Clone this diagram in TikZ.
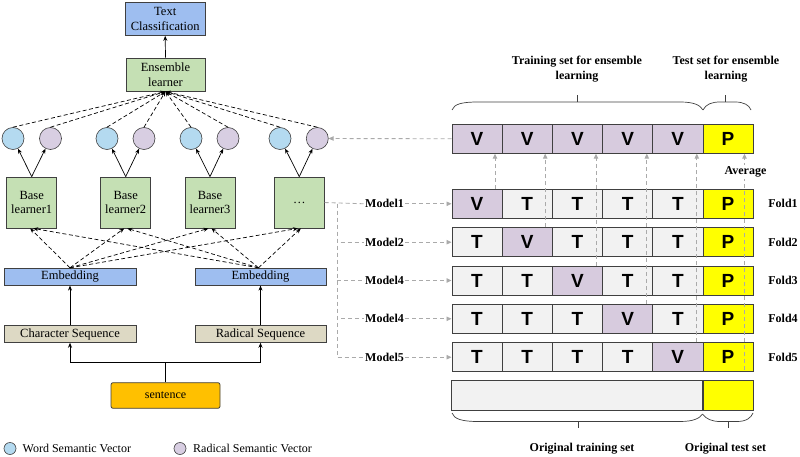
\documentclass[tikz,border=0pt]{standalone}
\usepackage{fontspec}
\setmainfont{Liberation Serif}
\newfontfamily\arialf{Liberation Sans}
\usetikzlibrary{arrows.meta}
\definecolor{bord}{RGB}{64,64,64}
\definecolor{cgreen}{RGB}{197,224,180}
\definecolor{cbluebox}{RGB}{158,190,240}
\definecolor{ctan}{RGB}{221,217,196}
\definecolor{corange}{RGB}{255,192,0}
\definecolor{ccircb}{RGB}{180,218,240}
\definecolor{ccircp}{RGB}{216,206,226}
\definecolor{cvcell}{RGB}{215,203,222}
\definecolor{ctcell}{RGB}{242,242,242}
\definecolor{cyel}{RGB}{255,255,0}
\definecolor{gline}{RGB}{170,170,170}
\begin{document}
\begin{tikzpicture}[x=1pt,y=-1pt,
  box/.style={draw=bord, line width=0.8pt, inner sep=0pt, align=center, font=\fontsize{12.5}{14.5}\selectfont},
  greenbox/.style={box, fill=cgreen},
  bluebox/.style={box, fill=cbluebox},
  tanbox/.style={box, fill=ctan},
  circb/.style={circle, draw=bord, line width=0.6pt, fill=ccircb, minimum size=22pt, inner sep=0pt},
  circp/.style={circle, draw=bord, line width=0.6pt, fill=ccircp, minimum size=22pt, inner sep=0pt},
  cell/.style={draw=bord, line width=0.8pt, minimum width=50.2pt, minimum height=29pt, inner sep=0pt, font=\arialf\bfseries\fontsize{19}{19}\selectfont},
  vcell/.style={cell, fill=cvcell},
  tcell/.style={cell, fill=ctcell},
  pcell/.style={cell, fill=cyel},
  lab/.style={font=\bfseries\fontsize{12}{15}\selectfont, align=center, inner sep=1pt},
  arr/.style={-{Stealth[length=5pt,width=4pt]}, line width=0.7pt, black},
  bdash/.style={arr, dash pattern=on 4pt off 2.5pt},
  gdash/.style={gline, line width=0.9pt, dash pattern=on 4pt off 3pt},
  garr/.style={gdash, -{Triangle[length=5pt,width=4.5pt]}},
  brace/.style={line width=0.7pt, bord}
]
\useasboundingbox (0,0) rectangle (800,457);

% ---------- left part ----------
\node[bluebox, minimum width=80pt, minimum height=33pt] (tc) at (165.2,18.9) {Text\\Classification};
\node[greenbox, minimum width=79pt, minimum height=33pt] (el) at (165.5,74.6) {Ensemble\\learner};

\node[greenbox, minimum width=50pt, minimum height=51pt] (b1) at (31.7,202.5) {Base\\learner1};
\node[greenbox, minimum width=50pt, minimum height=51pt] (b2) at (125.7,202.5) {Base\\learner2};
\node[greenbox, minimum width=50pt, minimum height=51pt] (b3) at (210,202.5) {Base\\learner3};
\node[greenbox, minimum width=50pt, minimum height=51pt] (b4) at (299.3,202.5) {…};

\node[circb] (c1a) at (13,138.5) {};
\node[circp] (c1b) at (50.5,138.5) {};
\node[circb] (c2a) at (107,138.5) {};
\node[circp] (c2b) at (144,138.5) {};
\node[circb] (c3a) at (191,138.5) {};
\node[circp] (c3b) at (228,138.5) {};
\node[circb] (c4a) at (280,138.5) {};
\node[circp] (c4b) at (317.3,138.5) {};

\node[bluebox, minimum width=132pt, minimum height=17pt] (e1) at (70,276.7) {Embedding};
\node[bluebox, minimum width=131pt, minimum height=17pt] (e2) at (260.5,276.7) {Embedding};
\node[tanbox, minimum width=132pt, minimum height=16.7pt] (s1) at (70,334) {Character Sequence};
\node[tanbox, minimum width=131pt, minimum height=16.7pt] (s2) at (260.5,334) {Radical Sequence};
\node[box, fill=corange, rounded corners=2pt, minimum width=109pt, minimum height=25.6pt, font=\fontsize{12}{14}\selectfont] (sent) at (165.5,395.5) {sentence};

\draw[arr] (el.north) -- (tc.south);
\foreach \b/\ca/\cb in {b1/c1a/c1b, b2/c2a/c2b, b3/c3a/c3b, b4/c4a/c4b} {
  \draw[arr] (\b.north) -- (\ca);
  \draw[arr] (\b.north) -- (\cb);
}
\foreach \c in {c1a,c1b,c2a,c2b,c3a,c3b,c4a,c4b} {
  \draw[bdash] (\c.north) -- (el.south);
}
\foreach \b in {b1,b2,b3,b4} {
  \draw[bdash] (e1.north) -- ([xshift=-1.5pt]\b.south);
  \draw[bdash] ([xshift=-2pt]e2.north) -- ([xshift=1.5pt]\b.south);
}
\draw[arr] (s1.north) -- (e1.south);
\draw[arr] (s2.north) -- (e2.south);
\coordinate (split) at (165.5,362);
\draw[arr] (sent.north) -- (split) -| (s1.south);
\draw[arr] (split) -| (s2.south);

% legend
\node[circb, minimum size=12pt] (lg1) at (10,448.5) {};
\node[anchor=west, inner sep=0pt, font=\fontsize{12}{14}\selectfont] (lt1) at (22.5,448.5) {Word Semantic Vector};
\node[circp, minimum size=12pt] (lg2) at (180,448.5) {};
\node[anchor=west, inner sep=0pt, font=\fontsize{12}{14}\selectfont] (lt2) at (193,448.5) {Radical Semantic Vector};

% ---------- right part ----------
\foreach \c/\x in {1/477,2/527.2,3/577.4,4/627.6,5/677.8} {
  \node[vcell] (r0c\c) at (\x,138.8) {V};
}
\node[pcell] (r0c6) at (728,138.8) {P};

\foreach \r/\y in {1/203.8,2/242.2,3/280.5,4/318.8,5/357.2} {
  \foreach \c/\x in {1/477,2/527.2,3/577.4,4/627.6,5/677.8} {
    \ifnum\c=\r
      \node[vcell] (r\r c\c) at (\x,\y) {V};
    \else
      \node[tcell] (r\r c\c) at (\x,\y) {T};
    \fi
  }
  \node[pcell] (r\r c6) at (728,\y) {P};
  \node[lab] (f\r) at (783,\y) {Fold\r};
}
\node[tcell, minimum width=251pt, minimum height=29.3pt] (otr) at (577.3,395.4) {};
\node[pcell, minimum height=29.3pt] (ote) at (728,395.4) {};

% model labels
\node[lab, fill=white] (m1) at (384.5,203.8) {Model1};
\node[lab, fill=white] (m2) at (384.5,242.2) {Model2};
\node[lab, fill=white] (m3) at (384.5,280.5) {Model4};
\node[lab, fill=white] (m4) at (384.5,318.8) {Model4};
\node[lab, fill=white] (m5) at (384.5,357.2) {Model5};

\draw[gdash] (b4.east) -- (m1.west);
\coordinate (vtop) at (337,203.8);
\foreach \m in {m2,m3,m4,m5} {
  \draw[gdash] (vtop) |- (\m.west);
}
\foreach \m/\r in {m1/r1,m2/r2,m3/r3,m4/r4,m5/r5} {
  \draw[garr] (\m.east) -- (\r c1.west);
}

% vertical arrows to top row
\draw[garr] ([xshift=18pt]r1c1.north) -- ([xshift=18pt]r0c1.south);
\draw[garr] ([xshift=18pt]r2c2.north) -- ([xshift=18pt]r0c2.south);
\draw[garr] ([xshift=18.6pt]r3c3.north) -- ([xshift=18.6pt]r0c3.south);
\draw[garr] ([xshift=19.2pt]r4c4.north) -- ([xshift=19.2pt]r0c4.south);
\draw[garr] ([xshift=19pt]r5c5.north) -- ([xshift=19pt]r0c5.south);
\draw[garr] ([xshift=16.5pt,yshift=2pt]r5c6.south) -- ([xshift=16.5pt]r0c6.south);
\node[lab, fill=white, inner sep=1.5pt] (avg) at (745.5,172) {Average};

% top to purple circle
\draw[garr] (r0c1.west) -- (c4b.east);

% braces
\draw[brace] (452,110) .. controls (454,104) and (462,102) .. (478,102) -- (680,102) .. controls (694,102) and (700,105) .. (703,110);
\draw[brace] (577,102) -- (577,95.5);
\draw[brace] (703,110) .. controls (706,104) and (712,102) .. (720,102) -- (735,102) .. controls (744,102) and (749,105) .. (751,110);
\draw[brace] (725.5,102) -- (725.5,95.5);

\draw[brace] (452,413) .. controls (454,419) and (462,421.5) .. (478,421.5) -- (680,421.5) .. controls (694,421.5) and (700,418) .. (702.5,414);
\draw[brace] (578,421.5) -- (578,428);
\draw[brace] (702.5,414) .. controls (706,419) and (712,421.5) .. (720,421.5) -- (737,421.5) .. controls (746,421.5) and (751,418) .. (753,413);
\draw[brace] (728,421.5) -- (728,428);

\node[lab] (ttr) at (577,69.5) {Training set for ensemble\\learning};
\node[lab] (tte) at (726,69.5) {Test set for ensemble\\learning};
\node[lab] (bot1) at (582,449) {Original training set};
\node[lab] (bot2) at (725.5,449) {Original test set};
\end{tikzpicture}
\end{document}
